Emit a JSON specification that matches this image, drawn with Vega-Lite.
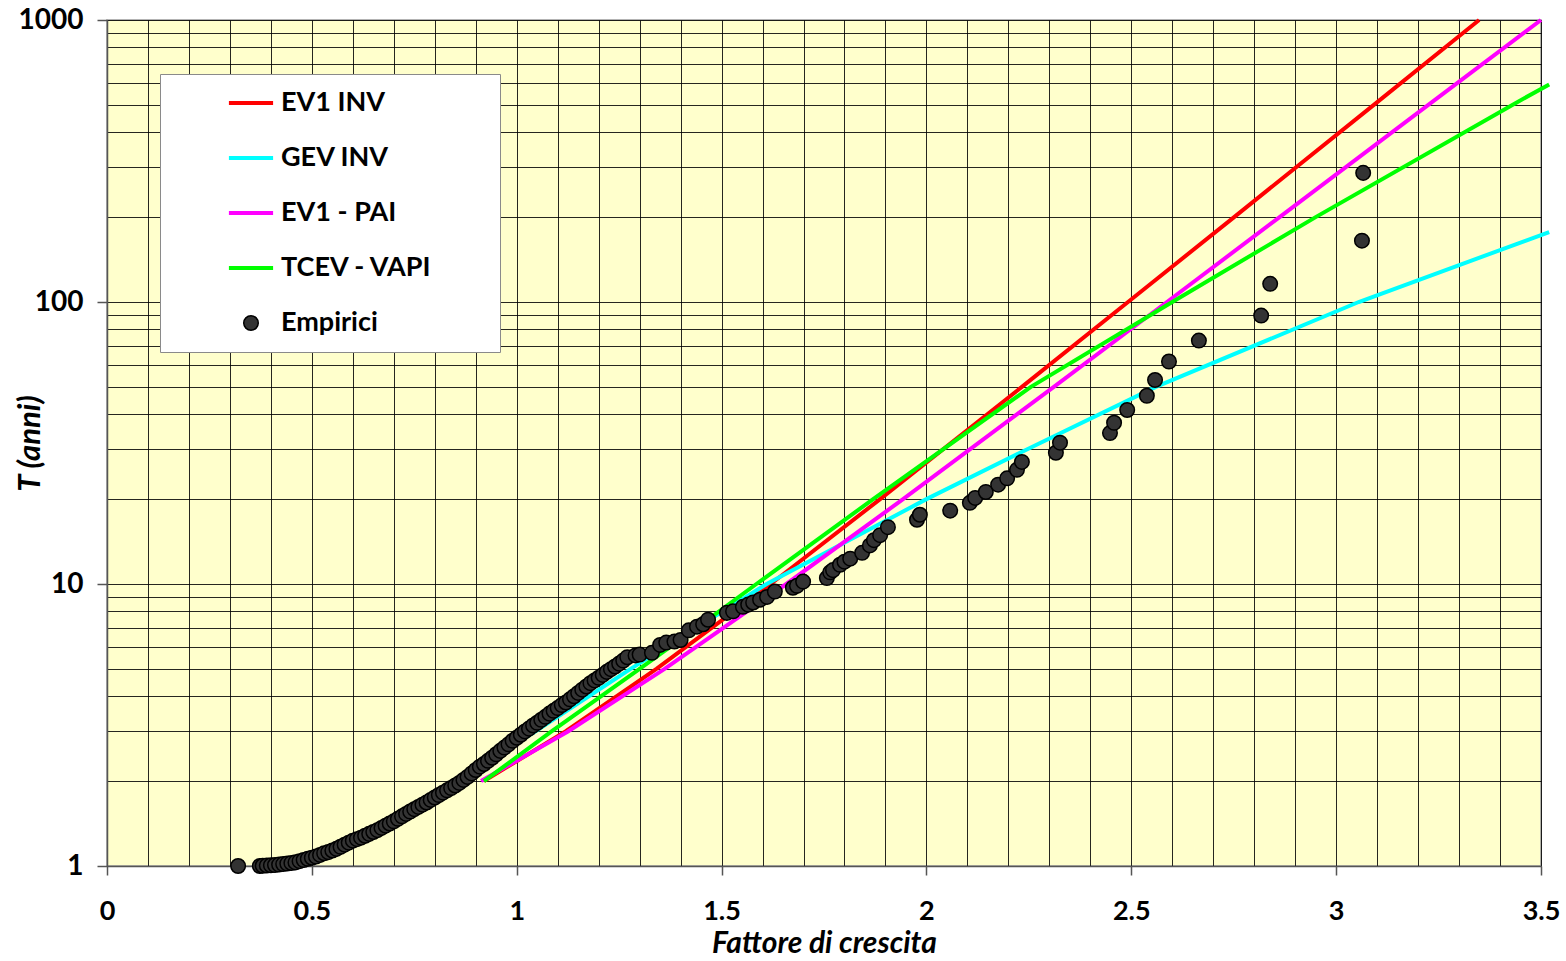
{
  "$schema": "https://vega.github.io/schema/vega-lite/v6.json",
  "width": 1434,
  "height": 846,
  "autosize": {"type": "none"},
  "padding": {"left": 107, "top": 20, "right": 25, "bottom": 95},
  "background": "white",
  "config": {
    "font": "Lato",
    "view": {"fill": "#FFFFCC", "stroke": "#9a9a9a", "strokeWidth": 1.5},
    "legend": {
      "orient": "none",
      "direction": "vertical",
      "legendX": 53,
      "legendY": 54,
      "fillColor": "#FFFFFF",
      "strokeColor": "#8a8a8a",
      "padding": 7,
      "rowPadding": 11,
      "clipHeight": 44,
      "symbolOffset": 61,
      "labelOffset": 7,
      "symbolSize": 1936,
      "symbolStrokeWidth": 1.5,
      "labelFont": "Lato",
      "labelFontSize": 27,
      "labelFontWeight": "bold",
      "labelColor": "#000000",
      "labelLimit": 0,
      "symbolOpacity": 1
    }
  },
  "datasets": {
    "curves": [
      {"s": "EV1 INV", "x": 0.920, "T": 2},
      {"s": "EV1 INV", "x": 1.119, "T": 3},
      {"s": "EV1 INV", "x": 1.341, "T": 5},
      {"s": "EV1 INV", "x": 1.620, "T": 10},
      {"s": "EV1 INV", "x": 1.887, "T": 20},
      {"s": "EV1 INV", "x": 2.233, "T": 50},
      {"s": "EV1 INV", "x": 2.492, "T": 100},
      {"s": "EV1 INV", "x": 2.751, "T": 200},
      {"s": "EV1 INV", "x": 3.092, "T": 500},
      {"s": "EV1 INV", "x": 3.349, "T": 1000},
      {"s": "GEV INV", "x": 0.853, "T": 2},
      {"s": "GEV INV", "x": 1.045, "T": 3},
      {"s": "GEV INV", "x": 1.278, "T": 5},
      {"s": "GEV INV", "x": 1.610, "T": 10},
      {"s": "GEV INV", "x": 2.000, "T": 20},
      {"s": "GEV INV", "x": 2.245, "T": 30},
      {"s": "GEV INV", "x": 2.560, "T": 50},
      {"s": "GEV INV", "x": 3.055, "T": 100},
      {"s": "GEV INV", "x": 3.520, "T": 177},
      {"s": "EV1 - PAI", "x": 0.913, "T": 2},
      {"s": "EV1 - PAI", "x": 1.125, "T": 3},
      {"s": "EV1 - PAI", "x": 1.361, "T": 5},
      {"s": "EV1 - PAI", "x": 1.658, "T": 10},
      {"s": "EV1 - PAI", "x": 1.943, "T": 20},
      {"s": "EV1 - PAI", "x": 2.311, "T": 50},
      {"s": "EV1 - PAI", "x": 2.587, "T": 100},
      {"s": "EV1 - PAI", "x": 2.862, "T": 200},
      {"s": "EV1 - PAI", "x": 3.225, "T": 500},
      {"s": "EV1 - PAI", "x": 3.500, "T": 1000},
      {"s": "TCEV - VAPI", "x": 0.920, "T": 2},
      {"s": "TCEV - VAPI", "x": 1.085, "T": 3},
      {"s": "TCEV - VAPI", "x": 1.300, "T": 5},
      {"s": "TCEV - VAPI", "x": 1.440, "T": 7},
      {"s": "TCEV - VAPI", "x": 1.585, "T": 10},
      {"s": "TCEV - VAPI", "x": 1.870, "T": 20},
      {"s": "TCEV - VAPI", "x": 2.255, "T": 50},
      {"s": "TCEV - VAPI", "x": 2.600, "T": 100},
      {"s": "TCEV - VAPI", "x": 2.950, "T": 200},
      {"s": "TCEV - VAPI", "x": 3.430, "T": 500},
      {"s": "TCEV - VAPI", "x": 3.520, "T": 591}
    ],
    "emp": [
      {"s": "Empirici", "x": 0.32, "T": 1.0},
      {"s": "Empirici", "x": 0.373, "T": 1.0},
      {"s": "Empirici", "x": 0.38, "T": 1.002},
      {"s": "Empirici", "x": 0.39, "T": 1.004},
      {"s": "Empirici", "x": 0.40, "T": 1.006},
      {"s": "Empirici", "x": 0.41, "T": 1.008},
      {"s": "Empirici", "x": 0.42, "T": 1.012},
      {"s": "Empirici", "x": 0.43, "T": 1.016},
      {"s": "Empirici", "x": 0.44, "T": 1.02},
      {"s": "Empirici", "x": 0.45, "T": 1.025},
      {"s": "Empirici", "x": 0.46, "T": 1.03},
      {"s": "Empirici", "x": 0.47, "T": 1.04},
      {"s": "Empirici", "x": 0.48, "T": 1.05},
      {"s": "Empirici", "x": 0.49, "T": 1.06},
      {"s": "Empirici", "x": 0.50, "T": 1.07},
      {"s": "Empirici", "x": 0.51, "T": 1.08},
      {"s": "Empirici", "x": 0.52, "T": 1.095},
      {"s": "Empirici", "x": 0.53, "T": 1.11},
      {"s": "Empirici", "x": 0.54, "T": 1.12},
      {"s": "Empirici", "x": 0.55, "T": 1.135},
      {"s": "Empirici", "x": 0.56, "T": 1.15},
      {"s": "Empirici", "x": 0.57, "T": 1.17},
      {"s": "Empirici", "x": 0.58, "T": 1.19},
      {"s": "Empirici", "x": 0.59, "T": 1.21},
      {"s": "Empirici", "x": 0.60, "T": 1.23},
      {"s": "Empirici", "x": 0.61, "T": 1.245},
      {"s": "Empirici", "x": 0.62, "T": 1.26},
      {"s": "Empirici", "x": 0.63, "T": 1.28},
      {"s": "Empirici", "x": 0.64, "T": 1.30},
      {"s": "Empirici", "x": 0.65, "T": 1.32},
      {"s": "Empirici", "x": 0.66, "T": 1.34},
      {"s": "Empirici", "x": 0.67, "T": 1.365},
      {"s": "Empirici", "x": 0.68, "T": 1.39},
      {"s": "Empirici", "x": 0.69, "T": 1.415},
      {"s": "Empirici", "x": 0.70, "T": 1.44},
      {"s": "Empirici", "x": 0.71, "T": 1.47},
      {"s": "Empirici", "x": 0.72, "T": 1.50},
      {"s": "Empirici", "x": 0.73, "T": 1.53},
      {"s": "Empirici", "x": 0.74, "T": 1.56},
      {"s": "Empirici", "x": 0.75, "T": 1.59},
      {"s": "Empirici", "x": 0.76, "T": 1.62},
      {"s": "Empirici", "x": 0.77, "T": 1.65},
      {"s": "Empirici", "x": 0.78, "T": 1.68},
      {"s": "Empirici", "x": 0.79, "T": 1.715},
      {"s": "Empirici", "x": 0.80, "T": 1.75},
      {"s": "Empirici", "x": 0.81, "T": 1.785},
      {"s": "Empirici", "x": 0.82, "T": 1.82},
      {"s": "Empirici", "x": 0.83, "T": 1.855},
      {"s": "Empirici", "x": 0.84, "T": 1.89},
      {"s": "Empirici", "x": 0.85, "T": 1.93},
      {"s": "Empirici", "x": 0.86, "T": 1.97},
      {"s": "Empirici", "x": 0.87, "T": 2.02},
      {"s": "Empirici", "x": 0.88, "T": 2.07},
      {"s": "Empirici", "x": 0.89, "T": 2.13},
      {"s": "Empirici", "x": 0.90, "T": 2.19},
      {"s": "Empirici", "x": 0.91, "T": 2.25},
      {"s": "Empirici", "x": 0.92, "T": 2.30},
      {"s": "Empirici", "x": 0.93, "T": 2.36},
      {"s": "Empirici", "x": 0.94, "T": 2.42},
      {"s": "Empirici", "x": 0.95, "T": 2.49},
      {"s": "Empirici", "x": 0.96, "T": 2.56},
      {"s": "Empirici", "x": 0.97, "T": 2.63},
      {"s": "Empirici", "x": 0.98, "T": 2.70},
      {"s": "Empirici", "x": 0.99, "T": 2.78},
      {"s": "Empirici", "x": 1.00, "T": 2.85},
      {"s": "Empirici", "x": 1.01, "T": 2.92},
      {"s": "Empirici", "x": 1.02, "T": 3.00},
      {"s": "Empirici", "x": 1.03, "T": 3.07},
      {"s": "Empirici", "x": 1.04, "T": 3.15},
      {"s": "Empirici", "x": 1.05, "T": 3.22},
      {"s": "Empirici", "x": 1.06, "T": 3.30},
      {"s": "Empirici", "x": 1.07, "T": 3.38},
      {"s": "Empirici", "x": 1.08, "T": 3.47},
      {"s": "Empirici", "x": 1.09, "T": 3.55},
      {"s": "Empirici", "x": 1.10, "T": 3.63},
      {"s": "Empirici", "x": 1.11, "T": 3.72},
      {"s": "Empirici", "x": 1.12, "T": 3.80},
      {"s": "Empirici", "x": 1.13, "T": 3.90},
      {"s": "Empirici", "x": 1.14, "T": 4.00},
      {"s": "Empirici", "x": 1.15, "T": 4.11},
      {"s": "Empirici", "x": 1.16, "T": 4.22},
      {"s": "Empirici", "x": 1.17, "T": 4.33},
      {"s": "Empirici", "x": 1.18, "T": 4.45},
      {"s": "Empirici", "x": 1.19, "T": 4.55},
      {"s": "Empirici", "x": 1.20, "T": 4.65},
      {"s": "Empirici", "x": 1.21, "T": 4.76},
      {"s": "Empirici", "x": 1.22, "T": 4.88},
      {"s": "Empirici", "x": 1.23, "T": 4.99},
      {"s": "Empirici", "x": 1.24, "T": 5.10},
      {"s": "Empirici", "x": 1.25, "T": 5.22},
      {"s": "Empirici", "x": 1.26, "T": 5.35},
      {"s": "Empirici", "x": 1.27, "T": 5.50},
      {"s": "Empirici", "x": 1.29, "T": 5.58},
      {"s": "Empirici", "x": 1.30, "T": 5.62},
      {"s": "Empirici", "x": 1.33, "T": 5.70},
      {"s": "Empirici", "x": 1.35, "T": 6.08},
      {"s": "Empirici", "x": 1.365, "T": 6.2},
      {"s": "Empirici", "x": 1.385, "T": 6.25},
      {"s": "Empirici", "x": 1.40, "T": 6.33},
      {"s": "Empirici", "x": 1.42, "T": 6.85},
      {"s": "Empirici", "x": 1.44, "T": 7.06},
      {"s": "Empirici", "x": 1.455, "T": 7.2},
      {"s": "Empirici", "x": 1.467, "T": 7.47},
      {"s": "Empirici", "x": 1.513, "T": 7.9},
      {"s": "Empirici", "x": 1.528, "T": 8.0},
      {"s": "Empirici", "x": 1.552, "T": 8.3},
      {"s": "Empirici", "x": 1.565, "T": 8.45},
      {"s": "Empirici", "x": 1.577, "T": 8.6},
      {"s": "Empirici", "x": 1.594, "T": 8.8},
      {"s": "Empirici", "x": 1.611, "T": 9.0},
      {"s": "Empirici", "x": 1.630, "T": 9.4},
      {"s": "Empirici", "x": 1.674, "T": 9.7},
      {"s": "Empirici", "x": 1.684, "T": 9.85},
      {"s": "Empirici", "x": 1.699, "T": 10.2},
      {"s": "Empirici", "x": 1.757, "T": 10.5},
      {"s": "Empirici", "x": 1.765, "T": 11.0},
      {"s": "Empirici", "x": 1.772, "T": 11.2},
      {"s": "Empirici", "x": 1.789, "T": 11.7},
      {"s": "Empirici", "x": 1.80, "T": 12.0},
      {"s": "Empirici", "x": 1.814, "T": 12.3},
      {"s": "Empirici", "x": 1.843, "T": 12.9},
      {"s": "Empirici", "x": 1.862, "T": 13.7},
      {"s": "Empirici", "x": 1.872, "T": 14.3},
      {"s": "Empirici", "x": 1.887, "T": 14.9},
      {"s": "Empirici", "x": 1.906, "T": 15.9},
      {"s": "Empirici", "x": 1.977, "T": 16.9},
      {"s": "Empirici", "x": 1.984, "T": 17.6},
      {"s": "Empirici", "x": 2.058, "T": 18.2},
      {"s": "Empirici", "x": 2.106, "T": 19.4},
      {"s": "Empirici", "x": 2.119, "T": 20.2},
      {"s": "Empirici", "x": 2.145, "T": 21.2},
      {"s": "Empirici", "x": 2.175, "T": 22.5},
      {"s": "Empirici", "x": 2.197, "T": 23.7},
      {"s": "Empirici", "x": 2.221, "T": 25.4},
      {"s": "Empirici", "x": 2.233, "T": 27.1},
      {"s": "Empirici", "x": 2.316, "T": 29.2},
      {"s": "Empirici", "x": 2.326, "T": 31.7},
      {"s": "Empirici", "x": 2.448, "T": 34.3},
      {"s": "Empirici", "x": 2.458, "T": 37.3},
      {"s": "Empirici", "x": 2.49, "T": 41.4},
      {"s": "Empirici", "x": 2.538, "T": 46.5},
      {"s": "Empirici", "x": 2.558, "T": 52.9},
      {"s": "Empirici", "x": 2.592, "T": 61.5},
      {"s": "Empirici", "x": 2.665, "T": 73.0},
      {"s": "Empirici", "x": 2.817, "T": 89.5},
      {"s": "Empirici", "x": 2.839, "T": 116},
      {"s": "Empirici", "x": 3.063, "T": 165},
      {"s": "Empirici", "x": 3.066, "T": 287}
    ]
  },
  "encoding": {
    "x": {
      "field": "x",
      "type": "quantitative",
      "scale": {"domain": [0, 3.5], "nice": false, "zero": false},
      "axis": {
        "values": [0, 0.1, 0.2, 0.3, 0.4, 0.5, 0.6, 0.7, 0.8, 0.9, 1, 1.1, 1.2, 1.3, 1.4, 1.5, 1.6, 1.7, 1.8, 1.9, 2, 2.1, 2.2, 2.3, 2.4, 2.5, 2.6, 2.7, 2.8, 2.9, 3, 3.1, 3.2, 3.3, 3.4, 3.5],
        "labelExpr": "abs(datum.value * 2 - round(datum.value * 2)) < 0.001 ? format(datum.value, '~g') : ''",
        "labelFlush": false,
        "labelOverlap": false,
        "labelFont": "Lato",
        "labelFontSize": 27,
        "labelFontWeight": "bold",
        "labelColor": "#000000",
        "labelPadding": 23,
        "tickSize": 9,
        "tickColor": "#555555",
        "tickWidth": 1.5,
        "tickOpacity": {"condition": {"test": "abs(datum.value * 2 - round(datum.value * 2)) < 0.001", "value": 1}, "value": 0},
        "grid": true,
        "gridColor": "#000000",
        "gridWidth": 1,
        "gridOpacity": 0.85,
        "domainColor": "#555555",
        "domainWidth": 1.5,
        "title": "Fattore di crescita",
        "titleFont": "Lato",
        "titleFontSize": 30,
        "titleFontWeight": "bold",
        "titleFontStyle": "italic",
        "titleColor": "#000000",
        "titleBaseline": "alphabetic",
        "titleY": 86
      }
    },
    "y": {
      "field": "T",
      "type": "quantitative",
      "scale": {"type": "log", "domain": [1, 1000], "nice": false},
      "axis": {
        "values": [1, 2, 3, 4, 5, 6, 7, 8, 9, 10, 20, 30, 40, 50, 60, 70, 80, 90, 100, 200, 300, 400, 500, 600, 700, 800, 900, 1000],
        "labelExpr": "indexof([1, 10, 100, 1000], datum.value) >= 0 ? format(datum.value, 'd') : ''",
        "labelOverlap": false,
        "labelFont": "Lato",
        "labelFontSize": 28,
        "labelFontWeight": "bold",
        "labelColor": "#000000",
        "labelPadding": 14,
        "labelBaseline": "middle",
        "tickSize": 10,
        "tickColor": "#555555",
        "tickWidth": 1.5,
        "tickOpacity": {"condition": {"test": "indexof([1, 10, 100, 1000], datum.value) >= 0", "value": 1}, "value": 0},
        "grid": true,
        "gridColor": "#000000",
        "gridWidth": 1,
        "gridOpacity": 0.85,
        "domainColor": "#555555",
        "domainWidth": 1.5,
        "title": "T (anni)",
        "titleFont": "Lato",
        "titleFontSize": 31,
        "titleFontWeight": "bold",
        "titleFontStyle": "italic",
        "titleColor": "#000000",
        "titleAngle": -90,
        "titleAlign": "center",
        "titleBaseline": "middle",
        "titleX": -77,
        "titleY": 423
      }
    },
    "stroke": {
      "field": "s",
      "type": "nominal",
      "scale": {
        "domain": ["EV1 INV", "GEV INV", "EV1 - PAI", "TCEV - VAPI", "Empirici"],
        "range": ["#FF0000", "#00FFFF", "#FF00FF", "#00FF00", "#000000"]
      },
      "legend": {"title": null, "labelExpr": "datum.label + '\u2800\u2800\u2800'"}
    }
  },
  "layer": [
    {
      "data": {"name": "curves"},
      "transform": [{"filter": "datum.s === 'EV1 INV'"}],
      "mark": {"type": "line", "strokeWidth": 4, "clip": false}
    },
    {
      "data": {"name": "curves"},
      "transform": [{"filter": "datum.s === 'GEV INV'"}],
      "mark": {"type": "line", "strokeWidth": 4, "clip": false}
    },
    {
      "data": {"name": "curves"},
      "transform": [{"filter": "datum.s === 'EV1 - PAI'"}],
      "mark": {"type": "line", "strokeWidth": 4, "clip": false}
    },
    {
      "data": {"name": "curves"},
      "transform": [{"filter": "datum.s === 'TCEV - VAPI'"}],
      "mark": {"type": "line", "strokeWidth": 4, "clip": false}
    },
    {
      "data": {"name": "emp"},
      "mark": {"type": "point", "filled": true, "opacity": 1, "size": 1936, "strokeWidth": 1.5},
      "encoding": {
        "fill": {
          "field": "s",
          "type": "nominal",
          "scale": {
            "domain": ["EV1 INV", "GEV INV", "EV1 - PAI", "TCEV - VAPI", "Empirici"],
            "range": ["#FF0000", "#00FFFF", "#FF00FF", "#00FF00", "#333333"]
          },
          "legend": {"title": null, "labelExpr": "datum.label + '\u2800\u2800\u2800'"}
        },
        "shape": {
          "field": "s",
          "type": "nominal",
          "scale": {
            "domain": ["EV1 INV", "GEV INV", "EV1 - PAI", "TCEV - VAPI", "Empirici"],
            "range": [
              "M-0.97,-0.057L0.97,-0.057L0.97,0.057L-0.97,0.057Z",
              "M-0.97,-0.057L0.97,-0.057L0.97,0.057L-0.97,0.057Z",
              "M-0.97,-0.057L0.97,-0.057L0.97,0.057L-0.97,0.057Z",
              "M-0.97,-0.057L0.97,-0.057L0.97,0.057L-0.97,0.057Z",
              "M0.33,0A0.33,0.33,0,1,1,-0.33,0A0.33,0.33,0,1,1,0.33,0Z"
            ]
          },
          "legend": {"title": null, "labelExpr": "datum.label + '\u2800\u2800\u2800'"}
        }
      }
    }
  ]
}
